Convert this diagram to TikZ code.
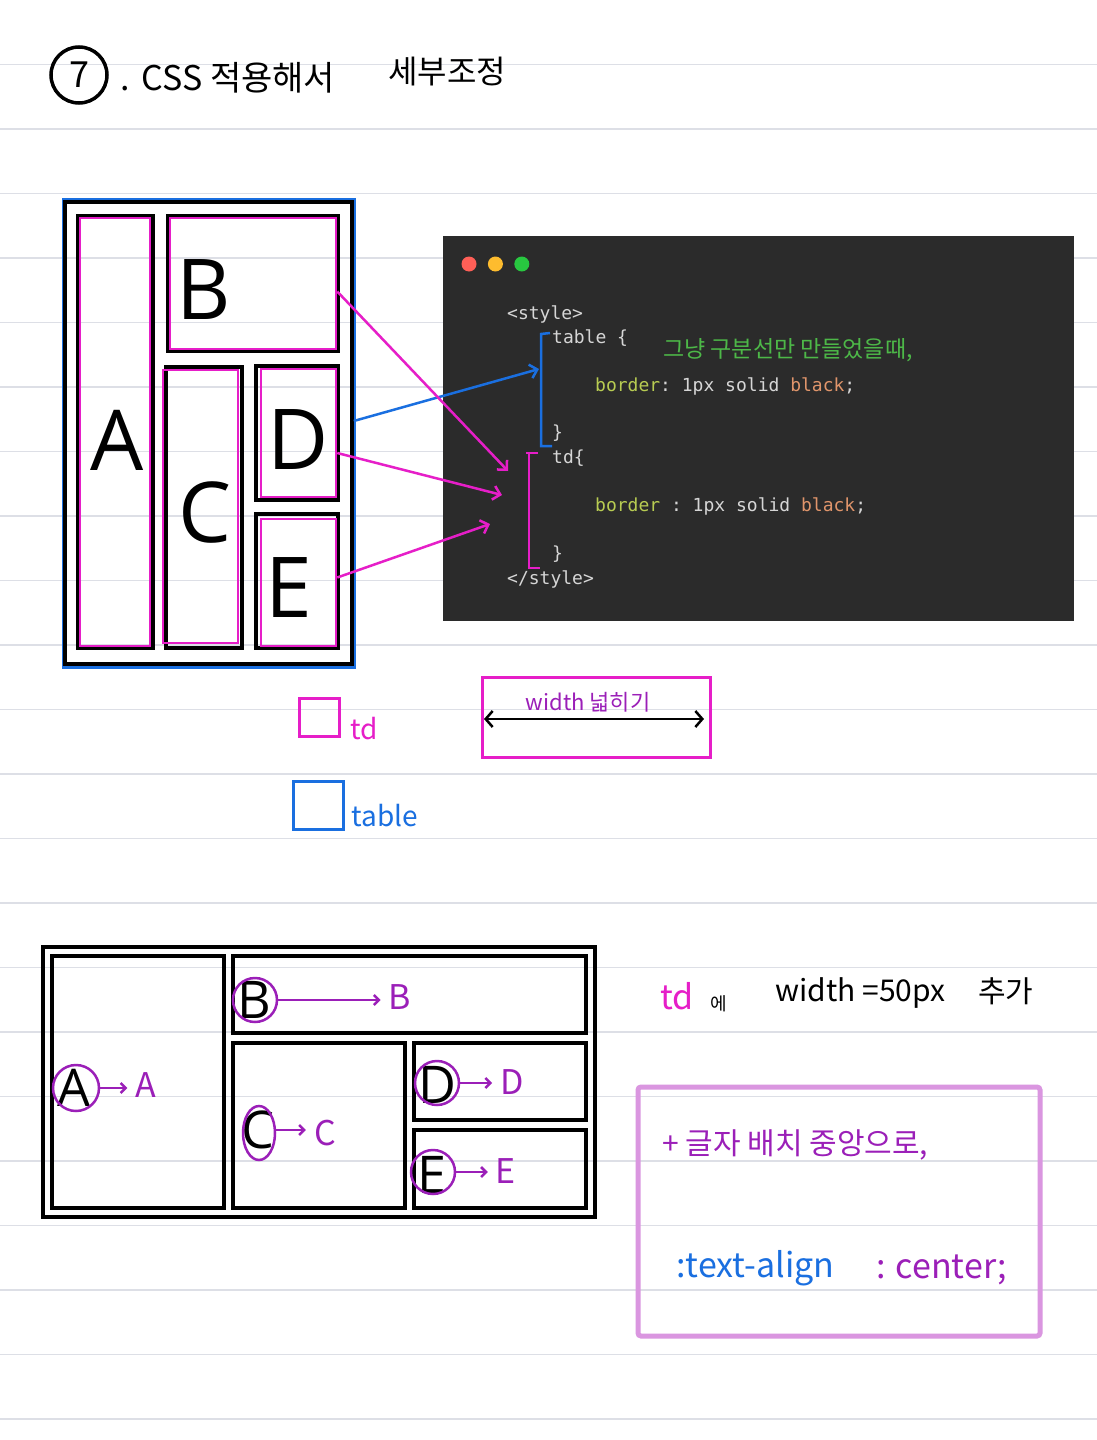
\documentclass[tikz,border=0pt]{standalone}
\usepackage{fontspec}
\setmainfont{Noto Sans CJK KR}
\setsansfont{Open Sans}
\setmonofont{DejaVu Sans Mono}
\usetikzlibrary{arrows.meta, positioning, shapes.geometric}

\definecolor{rulegray}{RGB}{221,223,230}
\definecolor{pink}{RGB}{230,30,200}
\definecolor{penblue}{RGB}{26,111,224}
\definecolor{purp}{RGB}{155,31,184}
\definecolor{lavender}{RGB}{218,150,224}
\definecolor{handgreen}{RGB}{77,184,72}
\definecolor{codebg}{RGB}{43,43,43}
\definecolor{codetext}{RGB}{214,214,214}
\definecolor{codekey}{RGB}{184,204,82}
\definecolor{codeval}{RGB}{224,149,107}
\definecolor{btnred}{RGB}{255,95,87}
\definecolor{btnyellow}{RGB}{254,188,46}
\definecolor{btngreen}{RGB}{40,200,64}

\begin{document}
\begin{tikzpicture}[x=1pt, y=-1pt,
  rule/.style={draw=rulegray, line width=1.4pt},
  cell/.style={draw=black, line width=3.5pt, inner sep=0pt},
  tdbox/.style={draw=pink, line width=2.5pt, inner sep=0pt},
  bigletter/.style={font=\sffamily\fontsize{84}{84}\selectfont, inner sep=0pt},
  midletter/.style={font=\sffamily\fontsize{52}{52}\selectfont, inner sep=0pt},
  ring/.style={draw=purp, line width=2.5pt, inner sep=0pt},
  code/.style={font=\ttfamily\fontsize{18}{18}\selectfont, text=codetext, anchor=west,
               inner sep=0pt, text height=13pt, text depth=4pt},
  hand/.style={font=\fontsize{30}{30}\selectfont, inner sep=0pt},
  penarr/.style={-{Straight Barb[length=7pt, width=14pt]}, line width=2.5pt},
  winbtn/.style={circle, minimum size=15pt, inner sep=0pt}
]
\useasboundingbox (0,0) rectangle (1097,1440);
\fill[white] (0,0) rectangle (1097,1440);
\foreach \k in {1,...,22}
  \draw[rule] (0,64.5*\k) -- (1097,64.5*\k);

% title
\node[circle, draw, line width=3.5pt, minimum size=56pt, inner sep=0pt,
      font=\fontsize{36}{36}\selectfont] (num) at (79,75) {7};
\node[hand, anchor=west, font=\fontsize{34}{34}\selectfont] (title) at (120,78)
  {.\hspace{12pt}CSS 적용해서};
\node[hand, font=\fontsize{32}{32}\selectfont] (title2) at (447,72) {세부조정};

% table drawn with td borders
\node[draw=penblue, line width=3pt, minimum width=291pt, minimum height=468pt] (tblBlue) at (208.5,433) {};
\node[cell, minimum width=287pt, minimum height=462pt] (tbl) at (208.5,433) {};
\node[cell, minimum width=75pt, minimum height=432pt] (cA) at (115.5,432) {};
\node[cell, minimum width=170pt, minimum height=135pt] (cB) at (253,283.5) {};
\node[cell, minimum width=76pt, minimum height=281pt] (cC) at (204,507.5) {};
\node[cell, minimum width=82pt, minimum height=134pt] (cD) at (297,433) {};
\node[cell, minimum width=82pt, minimum height=134pt] (cE) at (297,581) {};
\node[tdbox, minimum width=70pt, minimum height=428pt] (tdA) at (115,432) {};
\node[tdbox, minimum width=166pt, minimum height=131pt] (tdB) at (253,283.5) {};
\node[tdbox, minimum width=75pt, minimum height=273pt] (tdC) at (200.5,506.5) {};
\node[tdbox, minimum width=75pt, minimum height=128pt] (tdD) at (298.5,433) {};
\node[tdbox, minimum width=75pt, minimum height=127pt] (tdE) at (298.5,582.5) {};
\node[bigletter] (lA) at (117,440) {A};
\node[bigletter] (lB) at (204,290) {B};
\node[bigletter] (lC) at (205,512) {C};
\node[bigletter] (lD) at (298,440) {D};
\node[bigletter] (lE) at (289,588) {E};

% code window
\node[fill=codebg, minimum width=631pt, minimum height=385pt, inner sep=0pt] (win) at (758.5,428.5) {};
\node[winbtn, fill=btnred] (b1) at (469,264) {};
\node[winbtn, fill=btnyellow, right=11pt of b1] (b2) {};
\node[winbtn, fill=btngreen, right=11pt of b2] (b3) {};
\node[code] (c1) at (507,315) {<style>};
\node[code] (c2) at (552,339) {table \{};
\node[code] (c3) at (595,387) {\textcolor{codekey}{border}: 1px solid \textcolor{codeval}{black};};
\node[code] (c4) at (552,434) {\}};
\node[code] (c5) at (552,459) {td\{};
\node[code] (c6) at (595,507) {\textcolor{codekey}{border} : 1px solid \textcolor{codeval}{black};};
\node[code] (c7) at (552,555) {\}};
\node[code] (c8) at (507,580) {</style>};
\node[hand, text=handgreen, anchor=west, font=\fontsize{23}{23}\selectfont] (note) at (663,350)
  {그냥 구분선만 만들었을때,};

% brackets
\coordinate (tblTop) at (541,334);
\coordinate (tblBot) at (541,446);
\coordinate (tdTop) at (529,453);
\coordinate (tdBot) at (529,568);
\draw[penblue, line width=2.5pt] ([xshift=9pt,yshift=1pt]tblTop) -- (tblTop) -- (tblBot) -- ([xshift=11pt]tblBot);
\draw[pink, line width=2.5pt] ([xshift=-3pt]tdTop) -- ([xshift=9pt]tdTop);
\draw[pink, line width=2.5pt] (tdTop) -- (tdBot) -- ([xshift=11pt]tdBot);

% arrows into brackets
\coordinate (tblIn) at (539,369);
\coordinate (inB) at (508,471);
\coordinate (inD) at (502,495);
\coordinate (inE) at (490,524);
\draw[penarr, penblue] ([yshift=12pt]tbl.east) -- (tblIn);
\draw[penarr, pink] ([yshift=-8pt]tdB.east) -- (inB);
\draw[penarr, pink] ([yshift=-20pt]tdD.east) -- (inD);
\draw[penarr, pink] ([yshift=5pt]tdE.east) -- (inE);

% legend
\node[draw=pink, line width=3pt, minimum width=40pt, minimum height=38pt] (keyTd) at (319,717) {};
\node[hand, text=pink, font=\fontsize{28}{28}\selectfont] (keyTdTxt) at (364,729) {td};
\node[draw=penblue, line width=3pt, minimum width=50pt, minimum height=48pt] (keyTbl) at (318,805) {};
\node[hand, text=penblue, font=\fontsize{28}{28}\selectfont] (keyTblTxt) at (385,816) {table};

% widen box
\node[draw=pink, line width=3pt, minimum width=228pt, minimum height=80pt] (wBox) at (596,717) {};
\coordinate (wL) at (484,719);
\coordinate (wR) at (704,719);
\draw[{Straight Barb[length=7pt, width=16pt]}-{Straight Barb[length=7pt, width=16pt]}, line width=2.5pt] (wL) -- (wR);
\node[hand, text=purp, font=\fontsize{22}{22}\selectfont] (wTxt) at (588,702) {width 넓히기};

% result table
\node[cell, minimum width=552pt, minimum height=270pt] (rT) at (319,1082) {};
\node[cell, minimum width=172pt, minimum height=252pt] (rA) at (138,1082) {};
\node[cell, minimum width=353pt, minimum height=77pt] (rB) at (409.5,994.5) {};
\node[cell, minimum width=172pt, minimum height=165pt] (rC) at (319,1125.5) {};
\node[cell, minimum width=172pt, minimum height=77pt] (rD) at (500,1081.5) {};
\node[cell, minimum width=172pt, minimum height=78pt] (rE) at (500,1169) {};
\node[midletter] (mA) at (74,1088) {A};
\node[midletter] (mB) at (254,1000) {B};
\node[midletter] (mC) at (258,1130) {C};
\node[midletter] (mD) at (437,1085) {D};
\node[midletter] (mE) at (432,1175) {E};
\node[ring, circle, minimum size=46pt] (oA) at (76,1088) {};
\node[ring, circle, minimum size=44pt] (oB) at (255,1000) {};
\node[ring, ellipse, minimum width=32pt, minimum height=54pt] (oC) at (259,1133) {};
\node[ring, circle, minimum size=44pt] (oD) at (437,1083) {};
\node[ring, circle, minimum size=44pt] (oE) at (433,1172) {};
\node[hand, text=purp, font=\fontsize{34}{34}\selectfont] (hA) at (146,1085) {A};
\node[hand, text=purp, font=\fontsize{34}{34}\selectfont] (hB) at (400,997) {B};
\node[hand, text=purp, font=\fontsize{34}{34}\selectfont] (hC) at (325,1133) {C};
\node[hand, text=purp, font=\fontsize{34}{34}\selectfont] (hD) at (512,1082) {D};
\node[hand, text=purp, font=\fontsize{34}{34}\selectfont] (hE) at (506,1171) {E};
\draw[penarr, purp, -{Straight Barb[length=5pt, width=10pt]}, shorten >=8pt] (oA.east) -- (hA.west |- oA.east);
\draw[penarr, purp, -{Straight Barb[length=5pt, width=10pt]}, shorten >=8pt] (oB.east) -- (hB.west |- oB.east);
\draw[penarr, purp, -{Straight Barb[length=5pt, width=10pt]}, shorten >=8pt] ([yshift=3pt]oC.east) -- ([yshift=3pt]hC.west |- oC.east);
\draw[penarr, purp, -{Straight Barb[length=5pt, width=10pt]}, shorten >=8pt] (oD.east) -- (hD.west |- oD.east);
\draw[penarr, purp, -{Straight Barb[length=5pt, width=10pt]}, shorten >=8pt] (oE.east) -- (hE.west |- oE.east);

% notes on the right
\node[hand, text=pink, anchor=west, font=\fontsize{34}{34}\selectfont] (nTd) at (660,996) {td};
\node[hand, anchor=west, font=\fontsize{18}{18}\selectfont] (nE) at (710,1004) {에};
\node[hand, anchor=west] (nW) at (775,993) {width =50px};
\node[hand, anchor=west] (nAdd) at (978,991) {추가};
\node[draw=lavender, line width=5pt, rounded corners=3pt, minimum width=402pt, minimum height=249pt] (alignBox) at (839,1211.5) {};
\node[hand, text=purp, anchor=west] (nCenter) at (662,1145) {+ 글자 배치 중앙으로,};
\node[hand, text=penblue, anchor=west, font=\fontsize{34}{34}\selectfont] (nProp) at (676,1268) {:text-align};
\node[hand, text=purp, anchor=west, font=\fontsize{34}{34}\selectfont] (nVal) at (876,1270) {: center;};
\end{tikzpicture}
\end{document}
